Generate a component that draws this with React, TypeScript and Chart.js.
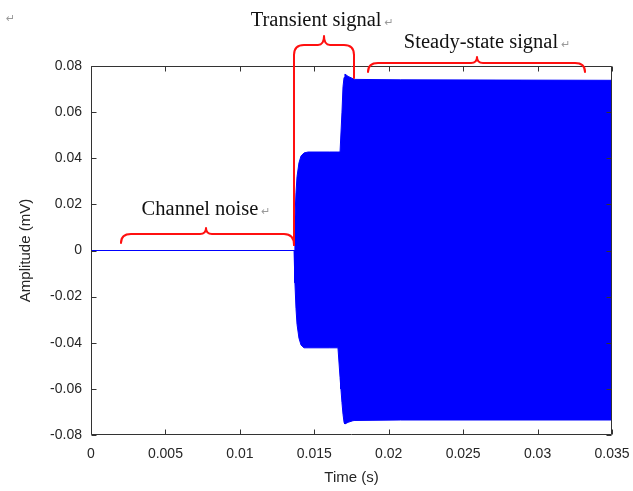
import React, { useEffect, useRef } from 'react';
import { Chart, registerables } from 'chart.js';

Chart.register(...registerables);

// Envelope of the recorded signal (s, mV)
const TIME = [0, 0.01364, 0.0137, 0.01377, 0.01384, 0.01397, 0.01411, 0.01431, 0.01458, 0.016, 0.01659, 0.01673, 0.01679, 0.01686, 0.01693, 0.017, 0.01706, 0.01727, 0.0176, 0.01773, 0.0208, 0.035];
const UPPER = [0, 0, 0.014, 0.025, 0.032, 0.038, 0.041, 0.0423, 0.0427, 0.0427, 0.0427, 0.0427, 0.0427, 0.06, 0.071, 0.075, 0.0765, 0.0755, 0.0745, 0.0742, 0.074, 0.0738];
const LOWER = [0, 0, -0.014, -0.025, -0.032, -0.038, -0.041, -0.0422, -0.0422, -0.0422, -0.0422, -0.055, -0.06, -0.066, -0.071, -0.0745, -0.0752, -0.0745, -0.0738, -0.0737, -0.0735, -0.0735];

const X_TICKS = [0, 0.005, 0.01, 0.015, 0.02, 0.025, 0.03, 0.035];
const X_TICK_LABELS = ['0', '0.005', '0.01', '0.015', '0.02', '0.025', '0.03', '0.035'];
const Y_TICKS = [-0.08, -0.06, -0.04, -0.02, 0, 0.02, 0.04, 0.06, 0.08];
const Y_TICK_LABELS = ['-0.08', '-0.06', '-0.04', '-0.02', '0', '0.02', '0.04', '0.06', '0.08'];

const X_TITLE = 'Time (s)';
const Y_TITLE = 'Amplitude (mV)';

// Region annotations (braces) in data units: [x1, x2, xTip, yEndLeft, yEndRight, yBar, yTip]
const REGION_LABELS = ['Channel noise', 'Transient signal', 'Steady-state signal'];
const REGION_BRACES = [
  [0.002015, 0.013637, 0.007726, 0.00325, 0.00238, 0.00715, 0.00976],
  [0.013637, 0.017668, 0.015653, 0.08477, 0.08477, 0.08911, 0.09301],
  [0.018609, 0.033186, 0.025931, 0.0774, 0.0774, 0.0813, 0.0839],
];
const REGION_LABEL_POS = [
  [0.00732, 0.01756],
  [0.01512, 0.0995],
  [0.0262, 0.08997],
];
// Region boundary markers: [x, yFrom, yTo]
const BOUNDARIES = [
  [0.013637, 0.08477, 0.00238],
  [0.017668, 0.08477, 0.0748],
];

const RETURN_MARK = '\u21B5';

const overlay = {
  id: 'overlay',
  afterDatasetsDraw(chart: any) {
    const { ctx, chartArea: a, scales } = chart;
    const x = scales.x;
    const y = scales.y;
    ctx.save();

    // frame + inward ticks
    const L = Math.round(a.left) + 0.5;
    const R = Math.round(a.right) - 0.5;
    const T = Math.round(a.top) + 0.5;
    const B = Math.round(a.bottom) - 0.5;
    ctx.strokeStyle = '#333333';
    ctx.lineWidth = 1;
    ctx.beginPath();
    ctx.rect(L, T, R - L, B - T);
    const tl = 5;
    X_TICKS.forEach((v) => {
      const px = Math.round(x.getPixelForValue(v)) + 0.5;
      ctx.moveTo(px, B);
      ctx.lineTo(px, B - tl);
      ctx.moveTo(px, T);
      ctx.lineTo(px, T + tl);
    });
    Y_TICKS.forEach((v) => {
      const py = Math.round(y.getPixelForValue(v)) + 0.5;
      ctx.moveTo(L, py);
      ctx.lineTo(L + tl, py);
      ctx.moveTo(R, py);
      ctx.lineTo(R - tl, py);
    });
    ctx.stroke();

    // boundaries
    ctx.strokeStyle = '#ff1010';
    ctx.lineWidth = 2;
    ctx.lineCap = 'round';
    ctx.lineJoin = 'round';
    BOUNDARIES.forEach(([bx, y1, y2]) => {
      const px = x.getPixelForValue(bx);
      ctx.beginPath();
      ctx.moveTo(px, y.getPixelForValue(y1));
      ctx.lineTo(px, y.getPixelForValue(y2));
      ctx.stroke();
    });

    // braces
    REGION_BRACES.forEach(([x1, x2, xt, yl, yr, yb, yt]) => {
      const p1 = x.getPixelForValue(x1);
      const p2 = x.getPixelForValue(x2);
      const pt = x.getPixelForValue(xt);
      const pyl = y.getPixelForValue(yl);
      const pyr = y.getPixelForValue(yr);
      const pb = y.getPixelForValue(yb);
      const ptY = y.getPixelForValue(yt);
      const r = 10;
      const rt = 6;
      ctx.beginPath();
      ctx.moveTo(p1, pyl);
      ctx.quadraticCurveTo(p1, pb, p1 + r, pb);
      ctx.lineTo(pt - rt, pb);
      ctx.quadraticCurveTo(pt, pb, pt, ptY);
      ctx.quadraticCurveTo(pt, pb, pt + rt, pb);
      ctx.lineTo(p2 - r, pb);
      ctx.quadraticCurveTo(p2, pb, p2, pyr);
      ctx.stroke();
    });

    // labels
    ctx.textBaseline = 'middle';
    REGION_LABELS.forEach((txt, i) => {
      const [lx, ly] = REGION_LABEL_POS[i];
      const px = x.getPixelForValue(lx);
      const py = y.getPixelForValue(ly);
      ctx.font = '20.5px "Liberation Serif", "Times New Roman", serif';
      ctx.fillStyle = '#111111';
      ctx.textAlign = 'center';
      ctx.fillText(txt, px, py);
      const w = ctx.measureText(txt).width;
      ctx.font = '11px "DejaVu Sans"';
      ctx.fillStyle = '#9a9a9a';
      ctx.textAlign = 'left';
      ctx.fillText(RETURN_MARK, px + w / 2 + 3, py + 2);
    });
    ctx.font = '11px "DejaVu Sans"';
    ctx.fillStyle = '#9a9a9a';
    ctx.textAlign = 'left';
    ctx.fillText(RETURN_MARK, 6, 19);

    // axis titles
    ctx.fillStyle = '#262626';
    ctx.font = '15px "Liberation Sans", Arial, sans-serif';
    ctx.textAlign = 'center';
    ctx.textBaseline = 'middle';
    ctx.fillText(X_TITLE, (a.left + a.right) / 2, 478);
    ctx.save();
    ctx.translate(26, (a.top + a.bottom) / 2);
    ctx.rotate(-Math.PI / 2);
    ctx.fillText(Y_TITLE, 0, 0);
    ctx.restore();

    ctx.restore();
  },
};

export default function App() {
  const ref = useRef<HTMLCanvasElement | null>(null);
  useEffect(() => {
    if (!ref.current) return;
    const upper = TIME.map((t, i) => ({ x: t, y: UPPER[i] }));
    const lower = TIME.map((t, i) => ({ x: t, y: LOWER[i] }));
    const chart = new Chart(ref.current, {
      type: 'line',
      data: {
        datasets: [
          {
            data: upper,
            borderColor: '#0000ff',
            backgroundColor: '#0000ff',
            borderWidth: 1,
            pointRadius: 0,
            fill: '+1',
            tension: 0,
          },
          {
            data: lower,
            borderColor: '#0000ff',
            backgroundColor: '#0000ff',
            borderWidth: 1,
            pointRadius: 0,
            fill: false,
            tension: 0,
          },
        ],
      },
      options: {
        animation: false,
        responsive: false,
        devicePixelRatio: 1,
        layout: { padding: { left: 0, right: 21, top: 66, bottom: 0 } },
        plugins: { legend: { display: false }, tooltip: { enabled: false }, title: { display: false } },
        scales: {
          x: {
            type: 'linear',
            min: 0,
            max: 0.035,
            border: { display: false },
            grid: { display: false, drawTicks: false },
            afterBuildTicks: (s: any) => {
              s.ticks = X_TICKS.map((v) => ({ value: v }));
            },
            afterFit: (s: any) => {
              s.height = 56;
              s.paddingLeft = 0;
              s.paddingRight = 0;
            },
            ticks: {
              autoSkip: false,
              maxRotation: 0,
              padding: 11,
              color: '#262626',
              font: { family: '"Liberation Sans", Arial, sans-serif', size: 14 },
              callback: (_v: any, i: number) => X_TICK_LABELS[i],
            },
          },
          y: {
            type: 'linear',
            min: -0.08,
            max: 0.08,
            border: { display: false },
            grid: { display: false, drawTicks: false },
            afterBuildTicks: (s: any) => {
              s.ticks = Y_TICKS.map((v) => ({ value: v }));
            },
            afterFit: (s: any) => {
              s.width = 91;
              s.paddingTop = 0;
              s.paddingBottom = 0;
            },
            ticks: {
              autoSkip: false,
              padding: 9,
              color: '#262626',
              font: { family: '"Liberation Sans", Arial, sans-serif', size: 14 },
              callback: (_v: any, i: number) => Y_TICK_LABELS[i],
            },
          },
        },
      },
      plugins: [overlay],
    });
    return () => chart.destroy();
  }, []);
  return (
    <div style={{ position: 'absolute', left: 0, top: 0, width: 633, height: 491, background: '#ffffff' }}>
      <canvas ref={ref} width={633} height={491} style={{ display: 'block' }} />
    </div>
  );
}
